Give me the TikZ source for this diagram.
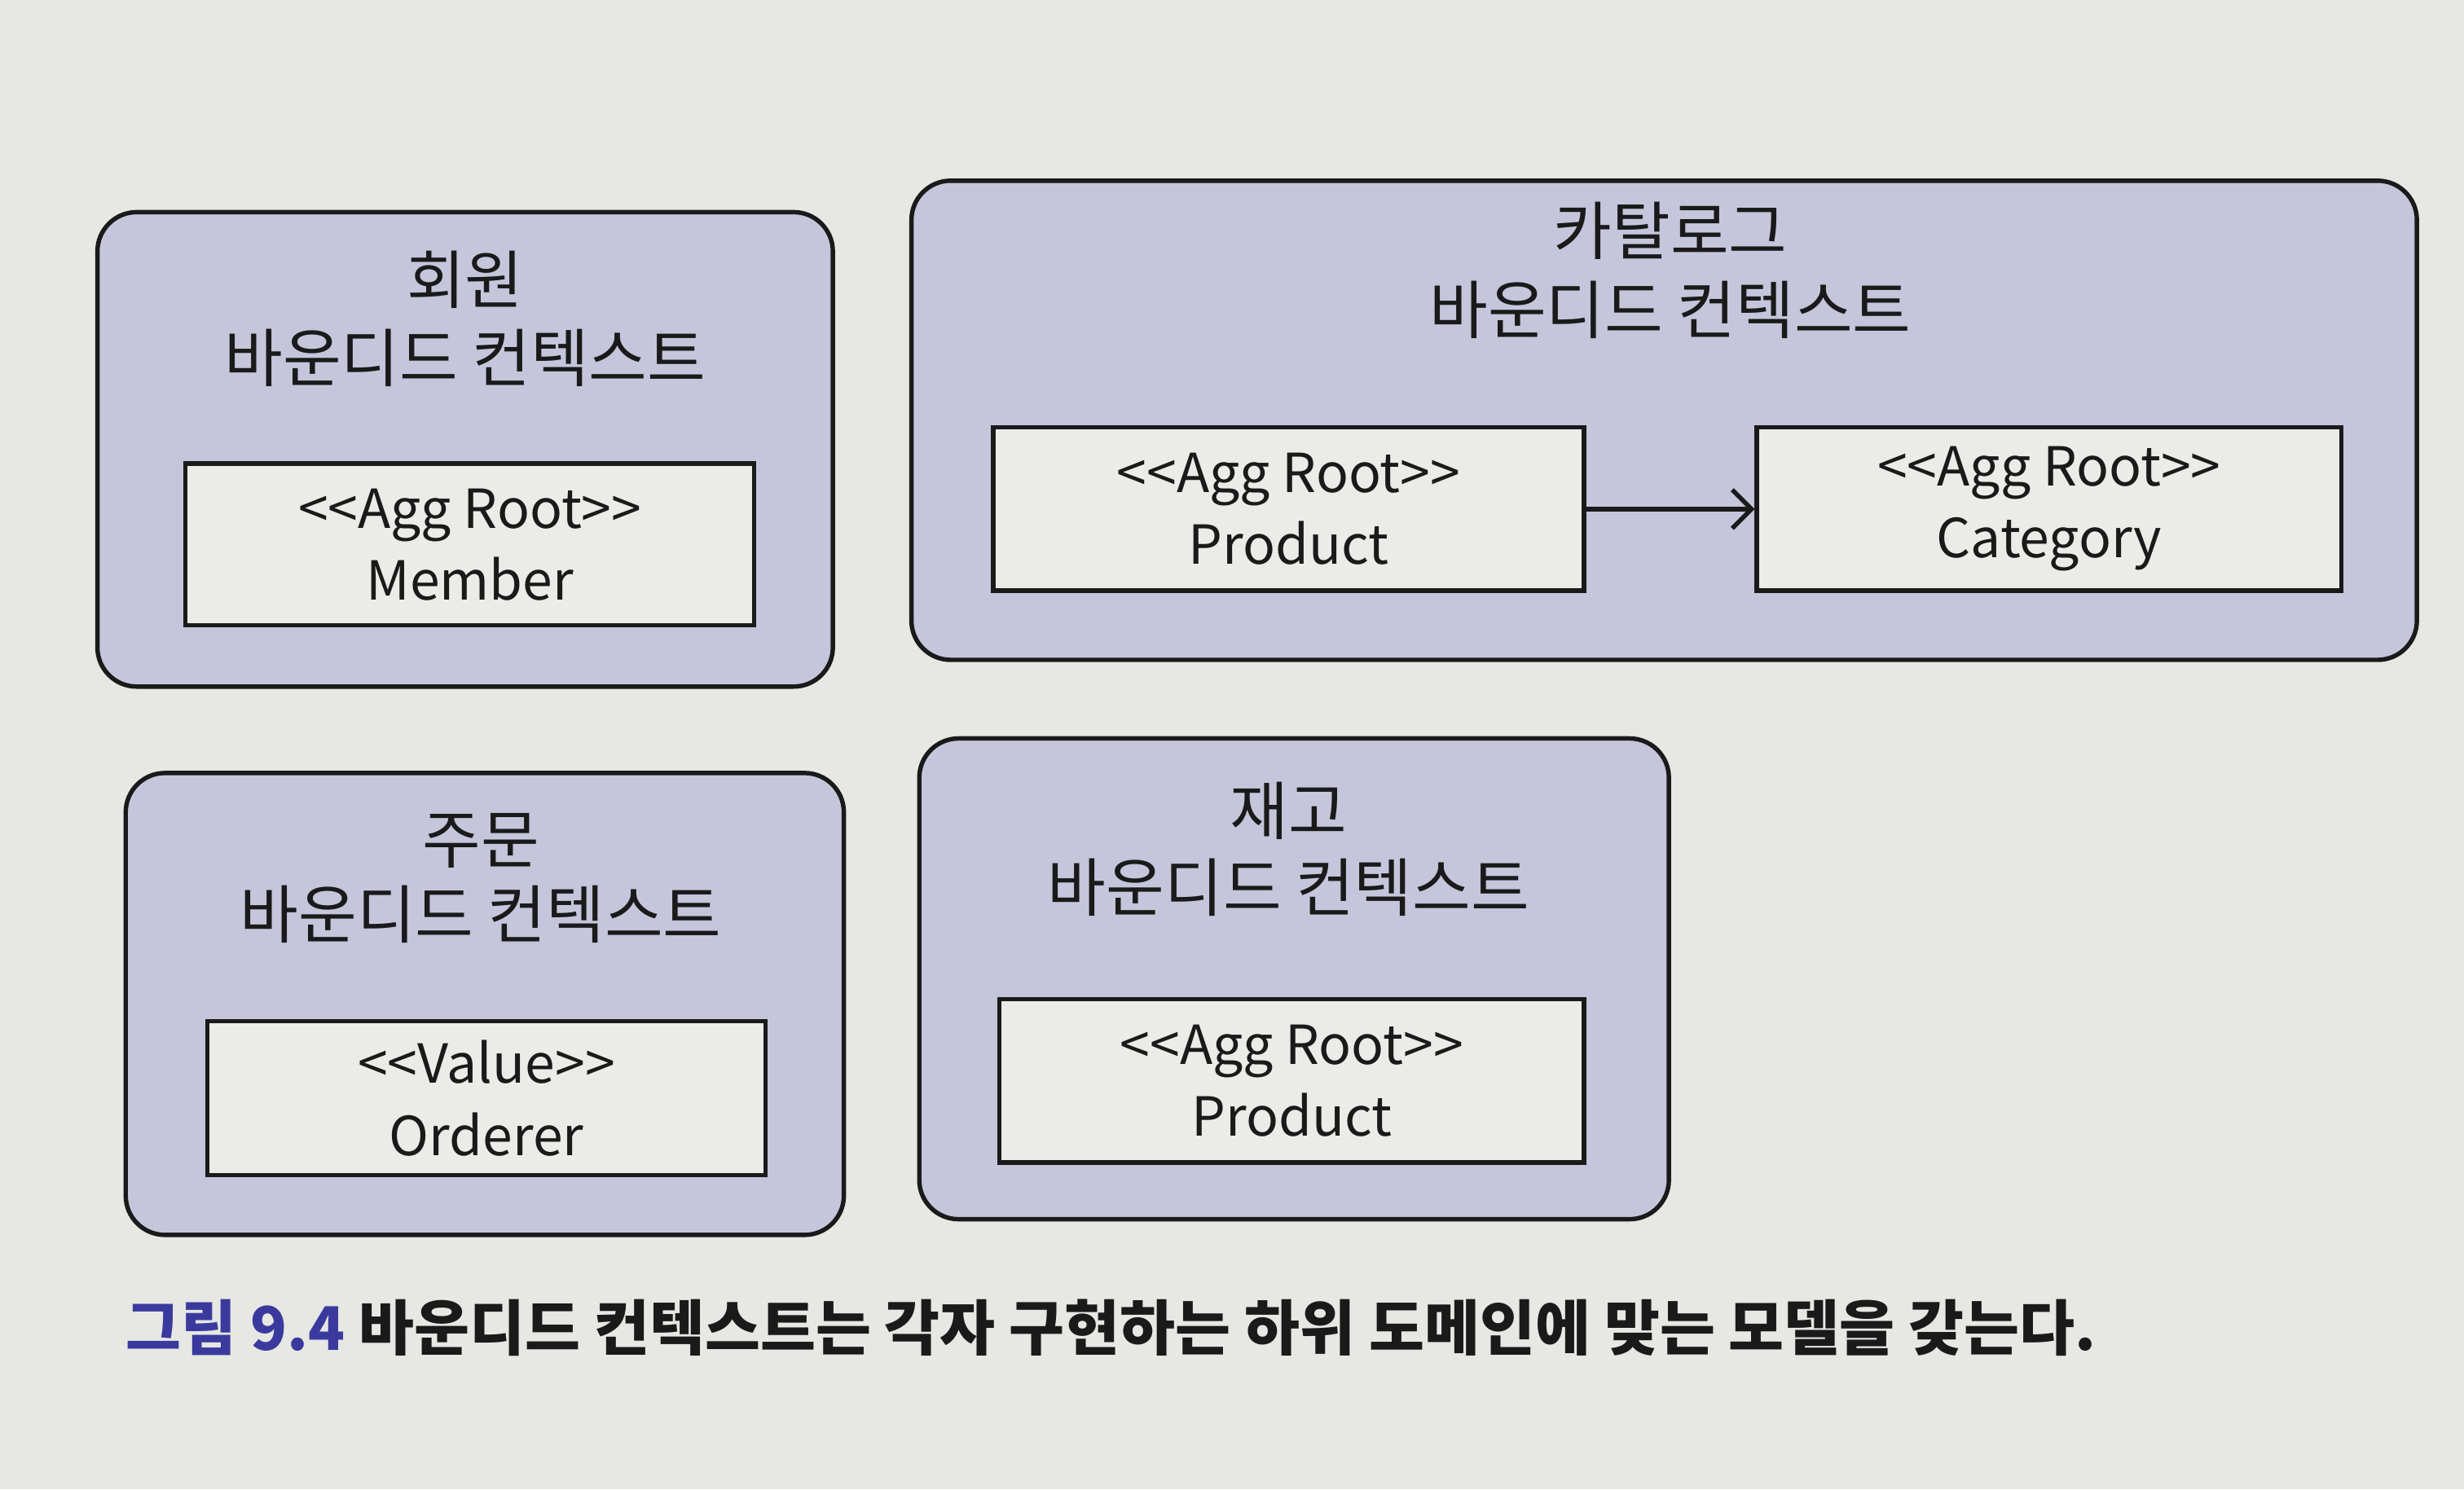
\documentclass[tikz,border=0pt]{standalone}
\usepackage{fontspec}
\setmainfont{Noto Sans CJK KR}
\usetikzlibrary{arrows.meta,fit}
\definecolor{bg}{HTML}{E7E7E3}
\definecolor{ctxfill}{HTML}{C5C6DC}
\definecolor{boxfill}{HTML}{EBEBE8}
\definecolor{capblue}{HTML}{3A3A9E}
\definecolor{ink}{HTML}{1A1A1A}
\newcommand{\stereo}[1]{<{}<#1>{}>}
\tikzset{
  ctx/.style={draw=ink, fill=ctxfill, line width=1.6pt, rounded corners=0.5cm, inner sep=0pt},
  aggbox/.style={draw=ink, fill=boxfill, line width=1.6pt, inner sep=0pt},
  boxtext/.style={align=center, inner sep=0pt, font=\fontsize{19.5}{26}\selectfont, text=ink},
  ctxtitle/.style={font=\fontsize{23}{27}\selectfont, text=ink, inner sep=0pt},
  link/.style={draw=ink, line width=1.6pt, -{Straight Barb[length=7pt,width=14pt,line width=1.6pt]}}
}
\begin{document}
\begin{tikzpicture}[x=0.02cm,y=-0.02cm]
\fill[bg] (0,0) rectangle (1568,948);
\useasboundingbox (0,0) rectangle (1568,948);

% Member context
\node[ctx, fit={(62,135) (530,437)}] (memberctx) {};
\node[ctxtitle] (membert1) at (296,178) {회원};
\node[ctxtitle] (membert2) at (296,228) {바운디드 컨텍스트};
\node[aggbox, fit={(118,295) (480,398)}] (member) {};
\node[boxtext] (membertxt) at (member.center) {\stereo{Agg Root}\\Member};

% Catalog context
\node[ctx, fit={(580,115) (1538,420)}] (catctx) {};
\node[ctxtitle] (catt1) at (1063,147) {카탈로그};
\node[ctxtitle] (catt2) at (1063,197) {바운디드 컨텍스트};
\node[aggbox, fit={(632,272) (1008,376)}] (product) {};
\node[boxtext] (producttxt) at (product.center) {\stereo{Agg Root}\\Product};
\node[aggbox, fit={(1118,272) (1490,376)}] (category) {};
\node[boxtext] (categorytxt) at (category.center) {\stereo{Agg Root}\\Category};
\draw[link] (product.east) -- (category.west);

% Order context
\node[ctx, fit={(80,492) (537,786)}] (orderctx) {};
\node[ctxtitle] (ordert1) at (306,535) {주문};
\node[ctxtitle] (ordert2) at (306,582) {바운디드 컨텍스트};
\node[aggbox, fit={(132,650) (487,748)}] (orderer) {};
\node[boxtext] (orderertxt) at (orderer.center) {\stereo{Value}\\Orderer};

% Stock context
\node[ctx, fit={(585,470) (1062,776)}] (stockctx) {};
\node[ctxtitle] (stockt1) at (820,516) {재고};
\node[ctxtitle] (stockt2) at (820,565) {바운디드 컨텍스트};
\node[aggbox, fit={(636,636) (1008,740)}] (stockprod) {};
\node[boxtext] (stockprodtxt) at (stockprod.center) {\stereo{Agg Root}\\Product};

% Caption
\node[anchor=west, inner sep=0pt, font=\fontsize{21.8}{26}\selectfont\bfseries] (caption) at (80,845)
  {\textcolor{capblue}{그림 9.4} \textcolor{ink}{바운디드 컨텍스트는 각자 구현하는 하위 도메인에 맞는 모델을 갖는다.}};
\end{tikzpicture}
\end{document}
